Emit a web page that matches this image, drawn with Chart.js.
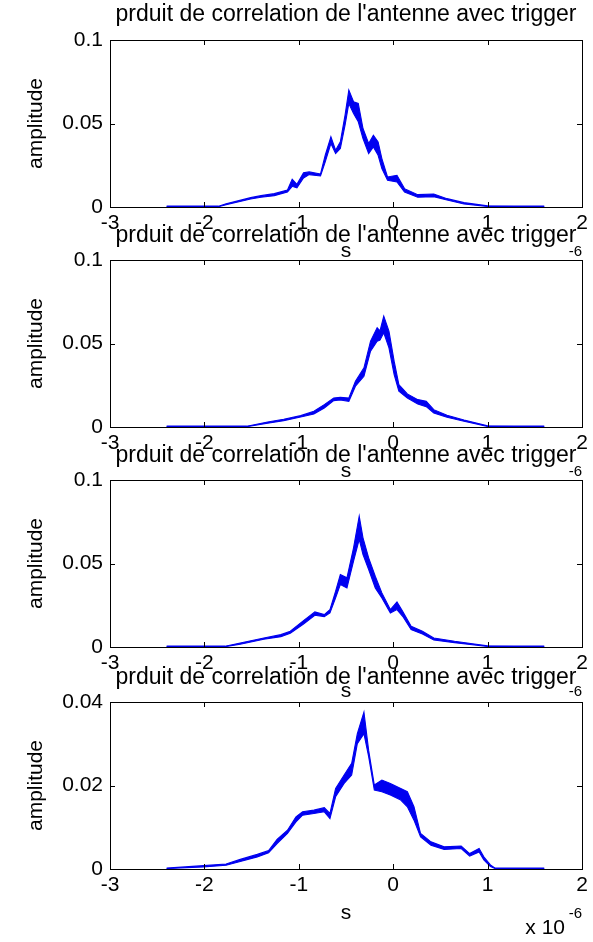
<!DOCTYPE html>
<html>
<head>
<meta charset="utf-8">
<title>prduit de correlation de l'antenne avec trigger</title>
<script src="https://cdn.jsdelivr.net/npm/chart.js@4"></script>
<style>
  html, body { margin: 0; padding: 0; background: #fff; }
  #fig { position: absolute; left: 0; top: 0; width: 593px; height: 942px; }
  #fig canvas { position: absolute; left: 0; }
</style>
</head>
<body>
<div id="fig">
  <canvas id="c1" width="593" height="283"></canvas>
  <canvas id="c2" width="593" height="283"></canvas>
  <canvas id="c3" width="593" height="283"></canvas>
  <canvas id="c4" width="593" height="283"></canvas>
</div>
<script>
// time axis in units of 1e-6 s, amplitude = upper / lower edge of the oscillating band
const xTicks = [-3, -2, -1, 0, 1, 2];

const t1  = [-2.4, -1.85, -1.77, -1.51, -1.40, -1.26, -1.12, -1.07, -1.02, -0.95, -0.89, -0.77, -0.72, -0.66, -0.61, -0.56, -0.51, -0.47, -0.42, -0.37, -0.32, -0.26, -0.21, -0.16, -0.12, -0.06, 0.04, 0.12, 0.26, 0.43, 0.57, 0.75, 1.0, 1.6];
const hi1 = [0.0005, 0.0005, 0.002, 0.0056, 0.0068, 0.008, 0.0102, 0.0166, 0.0136, 0.0205, 0.021, 0.0198, 0.031, 0.042, 0.034, 0.039, 0.055, 0.070, 0.063, 0.062, 0.047, 0.038, 0.043, 0.039, 0.029, 0.018, 0.019, 0.011, 0.0074, 0.0078, 0.005, 0.0026, 0.0007, 0.0005];
const lo1 = [0.0002, 0.0002, 0.0014, 0.0048, 0.0058, 0.0068, 0.009, 0.0124, 0.0114, 0.0174, 0.0194, 0.0186, 0.027, 0.038, 0.032, 0.035, 0.049, 0.062, 0.056, 0.051, 0.041, 0.032, 0.036, 0.031, 0.023, 0.016, 0.015, 0.009, 0.0058, 0.0062, 0.0042, 0.0018, 0.0003, 0.0002];

const t2  = [-2.4, -1.55, -1.33, -1.16, -0.98, -0.84, -0.73, -0.63, -0.56, -0.47, -0.40, -0.31, -0.24, -0.17, -0.14, -0.10, -0.045, 0.01, 0.06, 0.15, 0.26, 0.35, 0.43, 0.57, 0.75, 1.0, 1.6];
const hi2 = [0.0005, 0.0005, 0.003, 0.0046, 0.0068, 0.0094, 0.0134, 0.0174, 0.0178, 0.0174, 0.0274, 0.0354, 0.0514, 0.0594, 0.0575, 0.0664, 0.0574, 0.0394, 0.0254, 0.0198, 0.0164, 0.0154, 0.0104, 0.007, 0.0042, 0.0007, 0.0005];
const lo2 = [0.0002, 0.0002, 0.0022, 0.0038, 0.006, 0.0078, 0.0114, 0.0158, 0.0162, 0.0154, 0.0244, 0.0304, 0.0454, 0.0514, 0.0520, 0.0564, 0.0474, 0.0314, 0.0214, 0.0174, 0.0138, 0.0122, 0.0084, 0.0058, 0.0034, 0.0003, 0.0002];

const t3  = [-2.4, -1.78, -1.62, -1.37, -1.19, -1.09, -0.95, -0.83, -0.73, -0.67, -0.61, -0.56, -0.49, -0.42, -0.36, -0.32, -0.26, -0.19, -0.12, -0.03, 0.04, 0.10, 0.19, 0.31, 0.43, 0.65, 0.86, 1.0, 1.6];
const hi3 = [0.0005, 0.0005, 0.0024, 0.0054, 0.0074, 0.0094, 0.0158, 0.021, 0.0194, 0.0224, 0.0334, 0.0434, 0.0414, 0.0594, 0.0784, 0.0654, 0.0534, 0.0424, 0.0324, 0.0224, 0.027, 0.0214, 0.0124, 0.0094, 0.0054, 0.0034, 0.0018, 0.0007, 0.0005];
const lo3 = [0.0002, 0.0002, 0.0016, 0.0046, 0.0062, 0.0082, 0.0138, 0.019, 0.0182, 0.0204, 0.0294, 0.0374, 0.0354, 0.0514, 0.0644, 0.0554, 0.0464, 0.0354, 0.0294, 0.0204, 0.0224, 0.0184, 0.0104, 0.0078, 0.0042, 0.0026, 0.0012, 0.0003, 0.0002];

const t4  = [-2.4, -2.01, -1.77, -1.62, -1.44, -1.32, -1.23, -1.12, -1.03, -0.96, -0.84, -0.73, -0.67, -0.61, -0.52, -0.44, -0.38, -0.31, -0.26, -0.20, -0.12, -0.03, 0.08, 0.15, 0.22, 0.29, 0.40, 0.54, 0.72, 0.81, 0.91, 0.96, 1.03, 1.08, 1.6];
const hi4 = [0.0002, 0.0008, 0.0012, 0.0023, 0.0035, 0.0044, 0.0071, 0.0093, 0.0125, 0.0137, 0.0141, 0.0147, 0.0133, 0.0193, 0.0225, 0.0253, 0.0324, 0.0376, 0.0284, 0.0201, 0.0213, 0.0205, 0.0193, 0.0185, 0.0149, 0.0085, 0.0065, 0.0053, 0.0055, 0.0037, 0.0049, 0.0029, 0.001, 0.0002, 0.0002];
const lo4 = [0.0001, 0.0005, 0.0009, 0.0018, 0.0029, 0.0039, 0.0061, 0.0085, 0.0113, 0.0129, 0.0133, 0.0137, 0.0121, 0.0173, 0.0205, 0.0225, 0.03, 0.0324, 0.0269, 0.0189, 0.0185, 0.0177, 0.0165, 0.0149, 0.0117, 0.0077, 0.0057, 0.0047, 0.0049, 0.0031, 0.0041, 0.0022, 0.0006, 0.0001, 0.0001];

const yTicksA = [0, 0.05, 0.1];
const yTicksB = [0, 0.02, 0.04];

const titleText = "prduit de correlation de l'antenne avec trigger";
const fam = "'Liberation Sans', Arial, Helvetica, sans-serif";
const blue = "#0000f0";

// matlab style box with ticks pointing inwards, plus the "x 10^-6" exponent
const boxPlugin = {
  id: "box",
  afterDraw(chart, args, opts) {
    const ctx = chart.ctx;
    const a = chart.chartArea;
    const xs = chart.scales.x, ys = chart.scales.y;
    ctx.save();
    ctx.strokeStyle = "#000";
    ctx.lineWidth = 1;
    ctx.beginPath();
    xs.ticks.forEach(t => {
      const px = Math.round(xs.getPixelForValue(t.value)) + 0.5;
      ctx.moveTo(px, a.bottom); ctx.lineTo(px, a.bottom - 5);
      ctx.moveTo(px, a.top); ctx.lineTo(px, a.top + 5);
    });
    ys.ticks.forEach(t => {
      const py = Math.round(ys.getPixelForValue(t.value)) + 0.5;
      ctx.moveTo(a.left, py); ctx.lineTo(a.left + 5, py);
      ctx.moveTo(a.right, py); ctx.lineTo(a.right - 5, py);
    });
    ctx.stroke();
    ctx.strokeRect(Math.round(a.left) + 0.5, Math.round(a.top) + 0.5, Math.round(a.right - a.left), Math.round(a.bottom - a.top));

    ctx.fillStyle = "#000";
    ctx.textBaseline = "middle";
    ctx.textAlign = "right";
    ctx.font = "15px " + fam;
    ctx.fillText("-6", a.right, a.bottom + 45);
    if (opts.last) {
      ctx.font = "21px " + fam;
      ctx.fillText("x 10", a.right - 17, a.bottom + 59);
    }
    ctx.restore();
  }
};

const fmt = v => String(Number(v.toPrecision(6)));

function makePanel(id, top, t, hi, lo, yTicks, titlePad, last) {
  const canvas = document.getElementById(id);
  canvas.style.top = (top - 40) + "px";
  const ymax = yTicks[yTicks.length - 1];

  new Chart(canvas, {
    type: "line",
    data: {
      datasets: [
        {
          data: t.map((x, i) => ({ x: x, y: hi[i] })),
          borderColor: blue, borderWidth: 1.1, pointRadius: 0, tension: 0, fill: false
        },
        {
          data: t.map((x, i) => ({ x: x, y: lo[i] })),
          borderColor: blue, borderWidth: 1.1, pointRadius: 0, tension: 0,
          backgroundColor: blue, fill: "-1"
        }
      ]
    },
    options: {
      responsive: false,
      animation: false,
      devicePixelRatio: 1,
      layout: { padding: { left: 0, right: 11, top: 0, bottom: 15 } },
      plugins: {
        legend: { display: false },
        tooltip: { enabled: false },
        title: {
          display: true, text: titleText, fullSize: false, color: "#000",
          font: { family: fam, size: 23, weight: "normal" },
          padding: titlePad
        },
        box: { last: last }
      },
      scales: {
        x: {
          type: "linear", min: xTicks[0], max: xTicks[xTicks.length - 1],
          afterBuildTicks: s => { s.ticks = xTicks.map(v => ({ value: v })); },
          ticks: { color: "#000", font: { family: fam, size: 21 }, padding: 4, maxRotation: 0, autoSkip: false, callback: fmt },
          grid: { display: false, drawTicks: false },
          border: { display: false },
          title: { display: true, text: "s", color: "#000", font: { family: fam, size: 21 }, padding: { top: 0, bottom: 4 } },
          afterFit: s => { s.height = 61; }
        },
        y: {
          min: 0, max: ymax,
          afterBuildTicks: s => { s.ticks = yTicks.map(v => ({ value: v })); },
          ticks: { color: "#000", font: { family: fam, size: 21 }, padding: 7, callback: fmt },
          grid: { display: false, drawTicks: false },
          border: { display: false },
          title: { display: true, text: "amplitude", color: "#000", font: { family: fam, size: 21 }, padding: { top: 23.4, bottom: 0 } },
          afterFit: s => { s.width = 110; }
        }
      }
    },
    plugins: [boxPlugin]
  });
}

makePanel("c1", 40,  t1, hi1, lo1, yTicksA, { top: 1.2, bottom: 11.2 }, false);
makePanel("c2", 260, t2, hi2, lo2, yTicksA, { top: 1.5, bottom: 10.9 }, false);
makePanel("c3", 480, t3, hi3, lo3, yTicksA, { top: 1.5, bottom: 10.9 }, false);
makePanel("c4", 702, t4, hi4, lo4, yTicksB, { top: 1.5, bottom: 10.9 }, true);
</script>
</body>
</html>
